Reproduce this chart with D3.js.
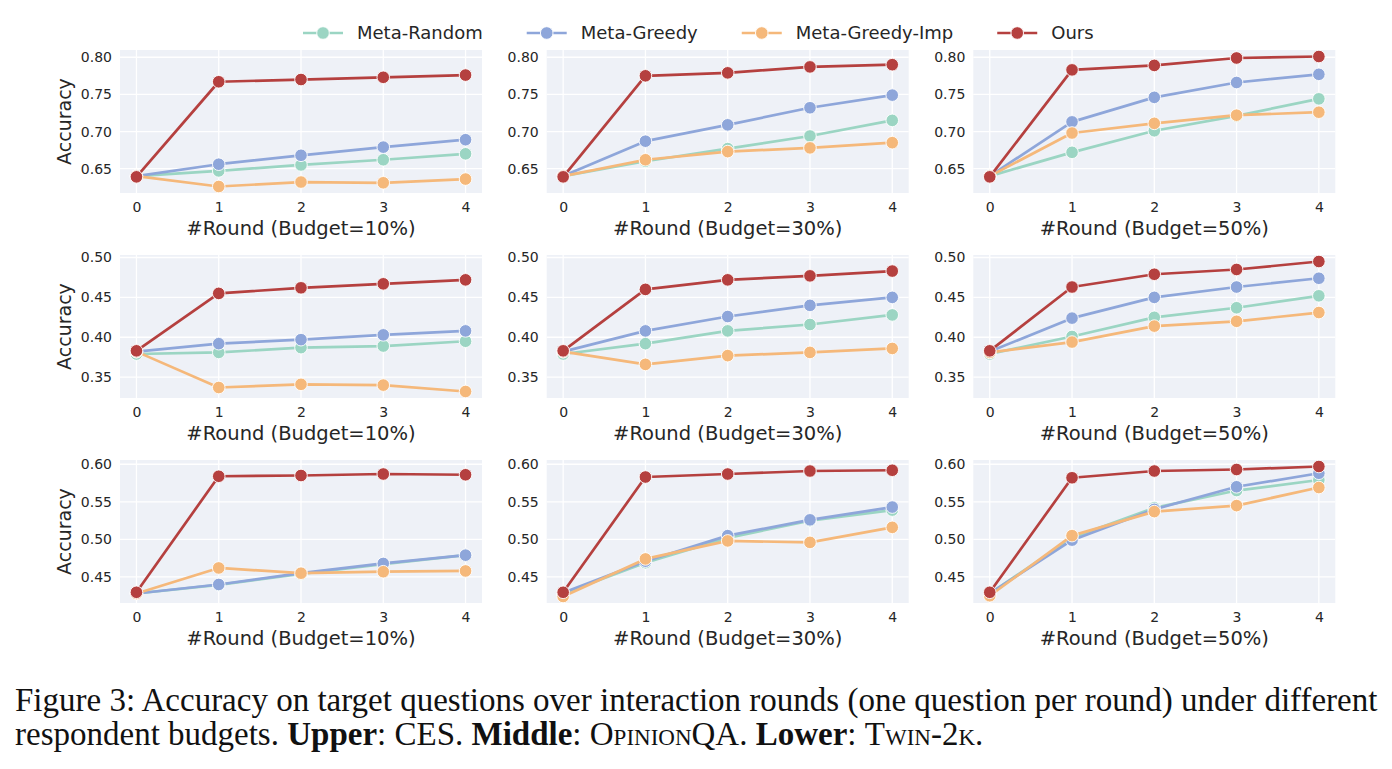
<!DOCTYPE html>
<html>
<head>
<meta charset="utf-8">
<script src="https://cdn.jsdelivr.net/npm/d3@7"></script>
<style>
  html, body { margin: 0; padding: 0; background: #ffffff; }
  svg { display: block; }
</style>
</head>
<body>
<svg id="chart" width="1392" height="769"></svg>
<script>
// ---------------- DATA ----------------
const rounds = [0, 1, 2, 3, 4];
const methods = ["Meta-Random", "Meta-Greedy", "Meta-Greedy-Imp", "Ours"];
const methodColors = ["#9bd5c3", "#8ea6da", "#f5b87a", "#b5403f"];

// each panel: [Meta-Random, Meta-Greedy, Meta-Greedy-Imp, Ours]
const ces10 = [
  [0.640, 0.647, 0.655, 0.662, 0.670],
  [0.640, 0.656, 0.668, 0.679, 0.689],
  [0.640, 0.626, 0.632, 0.631, 0.636],
  [0.639, 0.767, 0.770, 0.773, 0.776]
];
const ces30 = [
  [0.640, 0.660, 0.677, 0.694, 0.715],
  [0.640, 0.687, 0.709, 0.732, 0.749],
  [0.640, 0.662, 0.673, 0.678, 0.685],
  [0.639, 0.775, 0.779, 0.787, 0.790]
];
const ces50 = [
  [0.640, 0.672, 0.701, 0.721, 0.744],
  [0.640, 0.713, 0.746, 0.766, 0.777],
  [0.640, 0.698, 0.711, 0.722, 0.726],
  [0.639, 0.783, 0.789, 0.799, 0.801]
];
const oqa10 = [
  [0.379, 0.381, 0.387, 0.389, 0.395],
  [0.382, 0.392, 0.397, 0.403, 0.408],
  [0.382, 0.337, 0.341, 0.340, 0.332],
  [0.383, 0.455, 0.462, 0.467, 0.472]
];
const oqa30 = [
  [0.379, 0.392, 0.408, 0.416, 0.428],
  [0.382, 0.408, 0.426, 0.440, 0.450],
  [0.382, 0.366, 0.377, 0.381, 0.386],
  [0.383, 0.460, 0.472, 0.477, 0.483]
];
const oqa50 = [
  [0.379, 0.401, 0.425, 0.437, 0.452],
  [0.382, 0.424, 0.450, 0.463, 0.474],
  [0.381, 0.394, 0.414, 0.420, 0.431],
  [0.383, 0.463, 0.479, 0.485, 0.495]
];
const twin10 = [
  [0.428, 0.4395, 0.454, 0.467, 0.479],
  [0.428, 0.440, 0.455, 0.468, 0.479],
  [0.428, 0.462, 0.455, 0.457, 0.458],
  [0.4296, 0.584, 0.585, 0.587, 0.586]
];
const twin30 = [
  [0.428, 0.469, 0.502, 0.525, 0.539],
  [0.429, 0.471, 0.505, 0.526, 0.543],
  [0.424, 0.474, 0.498, 0.496, 0.516],
  [0.4296, 0.583, 0.587, 0.591, 0.592]
];
const twin50 = [
  [0.428, 0.502, 0.542, 0.565, 0.579],
  [0.428, 0.499, 0.540, 0.570, 0.588],
  [0.425, 0.505, 0.537, 0.545, 0.569],
  [0.4296, 0.582, 0.591, 0.593, 0.597]
];

const budgets = ["10%", "30%", "50%"];
const rowPanels = [[ces10, ces30, ces50], [oqa10, oqa30, oqa50], [twin10, twin30, twin50]];
const rowTicks = [
  [0.65, 0.70, 0.75, 0.80],
  [0.35, 0.40, 0.45, 0.50],
  [0.45, 0.50, 0.55, 0.60]
];

// ---------------- LAYOUT ----------------
const svg = d3.select("#chart");
const colLeft = [120, 546.7, 973.3];
const rowTop = [50, 255, 460];
const plotW = 362, plotH = 143;
const bgColor = "#eef1f7";
const textColor = "#262626";
const sansFont = "DejaVu Sans, sans-serif";

const x = d3.scaleLinear().domain([-0.2, 4.2]).range([0, plotW]);

rowPanels.forEach((panels, r) => {
  const all = panels.flat(2);
  const lo = d3.min(all), hi = d3.max(all);
  const pad = (hi - lo) * 0.05;
  const y = d3.scaleLinear().domain([lo - pad, hi + pad]).range([plotH, 0]);

  panels.forEach((panel, c) => {
    const g = svg.append("g").attr("transform", `translate(${colLeft[c]},${rowTop[r]})`);
    g.append("rect").attr("width", plotW).attr("height", plotH).attr("fill", bgColor);

    // grid
    g.selectAll(".gy").data(rowTicks[r]).enter().append("line")
      .attr("x1", 0).attr("x2", plotW)
      .attr("y1", d => y(d)).attr("y2", d => y(d))
      .attr("stroke", "#ffffff").attr("stroke-width", 1.3);
    g.selectAll(".gx").data(rounds).enter().append("line")
      .attr("y1", 0).attr("y2", plotH)
      .attr("x1", d => x(d)).attr("x2", d => x(d))
      .attr("stroke", "#ffffff").attr("stroke-width", 1.3);

    // y tick labels
    const yAxis = d3.axisLeft(y).tickValues(rowTicks[r]).tickFormat(d3.format(".2f")).tickSize(0).tickPadding(8);
    const ya = g.append("g").call(yAxis);
    ya.select(".domain").remove();
    ya.selectAll("text").attr("font-family", sansFont).attr("font-size", 14).attr("fill", textColor);

    // x tick labels
    const xAxis = d3.axisBottom(x).tickValues(rounds).tickFormat(d3.format("d")).tickSize(0).tickPadding(9);
    const xa = g.append("g").attr("transform", `translate(0,${plotH})`).call(xAxis);
    xa.select(".domain").remove();
    xa.selectAll("text").attr("font-family", sansFont).attr("font-size", 14).attr("fill", textColor);

    // x label
    g.append("text")
      .attr("x", plotW / 2).attr("y", plotH + 42)
      .attr("text-anchor", "middle")
      .attr("font-family", sansFont).attr("font-size", 19.5).attr("fill", textColor)
      .text(`#Round (Budget=${budgets[c]})`);

    if (c === 0) {
      g.append("text")
        .attr("transform", `translate(${71 - colLeft[0]},${plotH / 2}) rotate(-90)`)
        .attr("text-anchor", "middle")
        .attr("font-family", sansFont).attr("font-size", 19).attr("fill", textColor)
        .text("Accuracy");
    }

    const line = d3.line().x((d, i) => x(rounds[i])).y(d => y(d));
    panel.forEach((vals, m) => {
      g.append("path").datum(vals)
        .attr("d", line).attr("fill", "none")
        .attr("stroke", methodColors[m]).attr("stroke-width", 2.7)
        .attr("stroke-linejoin", "round");
      g.selectAll(null).data(vals).enter().append("circle")
        .attr("cx", (d, i) => x(rounds[i])).attr("cy", d => y(d))
        .attr("r", 6.3)
        .attr("fill", methodColors[m]).attr("stroke", "#ffffff").attr("stroke-width", 0.9);
    });
  });
});

// ---------------- LEGEND ----------------
const legend = svg.append("g").attr("transform", "translate(303,33)");
let lx = 0;
methods.forEach((name, i) => {
  const item = legend.append("g").attr("transform", `translate(${lx},0)`);
  item.append("line").attr("x1", 0).attr("x2", 40).attr("y1", 0).attr("y2", 0)
    .attr("stroke", methodColors[i]).attr("stroke-width", 2.7);
  item.append("circle").attr("cx", 20).attr("cy", 0).attr("r", 6.3)
    .attr("fill", methodColors[i]).attr("stroke", "#ffffff").attr("stroke-width", 0.9);
  const t = item.append("text").attr("x", 54).attr("y", 0).attr("dy", "0.35em")
    .attr("font-family", sansFont).attr("font-size", 18).attr("fill", textColor)
    .text(name);
  lx += 54 + t.node().getComputedTextLength() + 44;
});

// ---------------- CAPTION ----------------
const serif = "Linux Libertine, Liberation Serif, DejaVu Serif, serif";
const cap1 = svg.append("text").attr("x", 15).attr("y", 711)
  .attr("font-family", serif).attr("font-size", 27).attr("fill", "#111")
  .text("Figure 3: Accuracy on target questions over interaction rounds (one question per round) under different");
const w1 = cap1.node().getComputedTextLength();
const fs = 27 * 1363 / w1;
cap1.attr("font-size", fs);

const cap2 = svg.append("text").attr("x", 15).attr("y", 745)
  .attr("font-family", serif).attr("font-size", fs).attr("fill", "#111");
const parts = [
  ["respondent budgets. ", ""],
  ["Upper", "b"], [": CES. ", ""],
  ["Middle", "b"], [": ", ""],
  ["OpinionQA", "sc"], [". ", ""],
  ["Lower", "b"], [": ", ""],
  ["Twin-2k", "sc"], [".", ""]
];
parts.forEach(([txt, st]) => {
  const ts = cap2.append("tspan").text(txt);
  if (st === "b") ts.attr("font-weight", "bold");
  if (st === "sc") ts.style("font-variant", "small-caps");
});
</script>
</body>
</html>
